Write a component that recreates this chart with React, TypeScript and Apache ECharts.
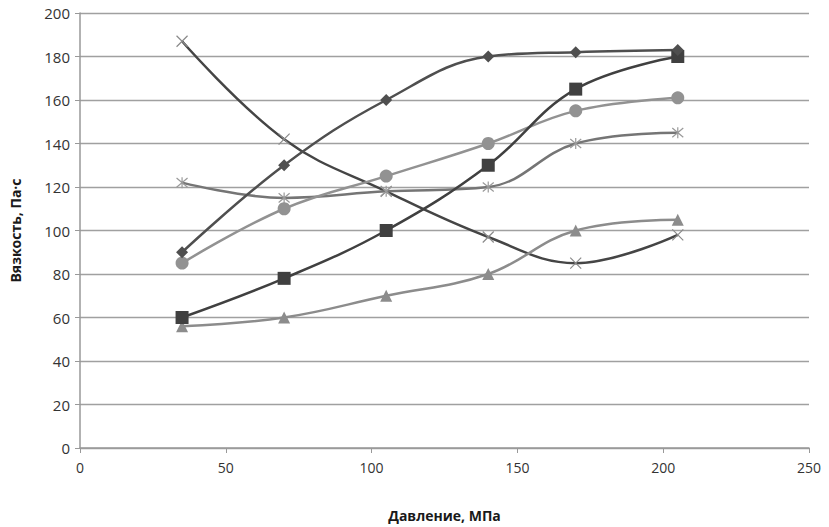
import React, { useEffect, useRef } from "react";
import * as echarts from "echarts";

const pressure = [35, 70, 105, 140, 170, 205];
const diamondSeries = [90, 130, 160, 180, 182, 183];
const squareSeries = [60, 78, 100, 130, 165, 180];
const circleSeries = [85, 110, 125, 140, 155, 161];
const starSeries = [122, 115, 118, 120, 140, 145];
const triangleSeries = [56, 60, 70, 80, 100, 105];
const crossSeries = [187, 142, 118, 97, 85, 98];

const xTitle = "Давление, МПа";
const yTitle = "Вязкость, Па·с";

const pairs = (ys: number[]) => pressure.map((x, i) => [x, ys[i]]);

const X_PATH = "path://M0,0L10,10M10,0L0,10";
const STAR_PATH = "path://M0,0L10,10M10,0L0,10M5,-1L5,11";

export default function App() {
  const ref = useRef<HTMLDivElement>(null);
  useEffect(() => {
    if (!ref.current) return;
    const chart = echarts.init(ref.current, null, { renderer: "svg" });
    const font = "'Open Sans', 'Liberation Sans', sans-serif";
    const line = (
      name: string,
      data: number[],
      color: string,
      symbol: string,
      size: number,
      markerColor?: string,
      stroked?: boolean
    ) => ({
      name,
      type: "line",
      smooth: 0.4,
      data: pairs(data),
      symbol,
      symbolSize: size,
      showSymbol: true,
      lineStyle: { color, width: 2.5 },
      itemStyle: stroked
        ? { color: "rgba(0,0,0,0)", borderColor: markerColor || color, borderWidth: 1.2 }
        : { color: markerColor || color, borderWidth: 0 },
      z: 3,
    });
    chart.setOption({
      animation: false,
      backgroundColor: "#ffffff",
      grid: { left: 80, right: 20, top: 13, bottom: 77 },
      xAxis: {
        type: "value",
        min: 0,
        max: 250,
        interval: 50,
        name: xTitle,
        nameLocation: "middle",
        nameGap: 60,
        nameTextStyle: { fontFamily: font, fontSize: 14, fontWeight: "bold", color: "#1a1a1a" },
        axisLine: { show: true, lineStyle: { color: "#999", width: 1.5 } },
        axisTick: { show: true, length: 5, lineStyle: { color: "#999" } },
        axisLabel: { fontFamily: font, fontSize: 14, color: "#333", margin: 12 },
        splitLine: { show: false },
      },
      yAxis: {
        type: "value",
        min: 0,
        max: 200,
        interval: 20,
        name: yTitle,
        nameLocation: "middle",
        nameGap: 58,
        nameRotate: 90,
        nameTextStyle: { fontFamily: font, fontSize: 14, fontWeight: "bold", color: "#1a1a1a" },
        axisLine: { show: true, lineStyle: { color: "#999", width: 1.5 } },
        axisTick: { show: true, length: 5, lineStyle: { color: "#999" } },
        axisLabel: { fontFamily: font, fontSize: 15, color: "#333", margin: 10 },
        splitLine: { show: true, lineStyle: { color: "#a0a0a0", width: 1.3 } },
      },
      series: [
        line("cross", crossSeries, "#454545", X_PATH, 11, "#8a8a8a", true),
        line("star", starSeries, "#757575", STAR_PATH, 11, "#9a9a9a", true),
        line("triangle", triangleSeries, "#8c8c8c", "triangle", 12),
        line("circle", circleSeries, "#929292", "circle", 13),
        line("square", squareSeries, "#404040", "rect", 13),
        line("diamond", diamondSeries, "#4f4f4f", "diamond", 12),
      ],
    });
    return () => chart.dispose();
  }, []);
  return (
    <div
      ref={ref}
      style={{ position: "absolute", left: 0, top: 0, width: 829, height: 527 }}
    />
  );
}
